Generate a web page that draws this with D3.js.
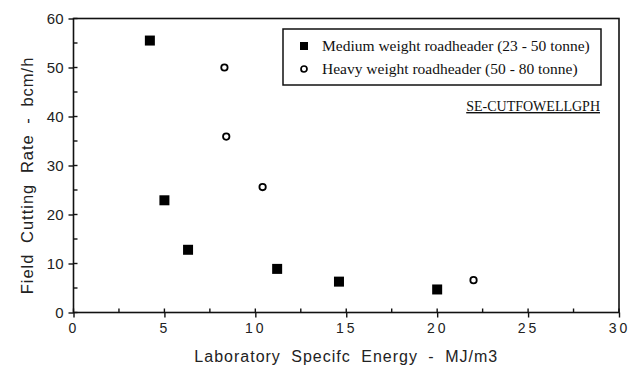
<!DOCTYPE html>
<html>
<head>
<meta charset="utf-8">
<script src="https://cdn.jsdelivr.net/npm/d3@7"></script>
<style>
  body { margin: 0; background: #fff; }
  svg { display: block; }
</style>
</head>
<body>
<script>
  // values
  var mediumEnergy = [4.2, 5.0, 6.3, 11.2, 14.6, 20.0];
  var mediumRate   = [55.5, 22.9, 12.8, 8.9, 6.3, 4.7];
  var heavyEnergy  = [8.3, 8.4, 10.4, 22.0];
  var heavyRate    = [50.0, 35.9, 25.6, 6.6];
  var xTicks = [0, 5, 10, 15, 20, 25, 30];
  var yTicks = [0, 10, 20, 30, 40, 50, 60];
  var legendLabels = ["Medium weight roadheader (23 - 50 tonne)", "Heavy weight roadheader (50 - 80 tonne)"];

  var width = 630, height = 371;
  var margin = {left: 73.5, right: 11, top: 18.5, bottom: 58.5};

  var svg = d3.select("body").append("svg")
      .attr("width", width)
      .attr("height", height);

  var x = d3.scaleLinear().domain([0, 30]).range([margin.left, width - margin.right]);
  var y = d3.scaleLinear().domain([0, 60]).range([height - margin.bottom, margin.top]);

  var sans = "'Liberation Sans', Arial, sans-serif";
  var serif = "'Liberation Serif', 'Times New Roman', serif";

  // frame
  svg.append("rect")
      .attr("x", x(0)).attr("y", y(60))
      .attr("width", x(30) - x(0)).attr("height", y(0) - y(60))
      .attr("fill", "none").attr("stroke", "#111").attr("stroke-width", 1.6);

  // minor ticks, inward
  var xMinor = d3.range(0, 30.01, 2.5);
  var yMinor = d3.range(0, 60.01, 5);
  svg.append("g").selectAll("line").data(xMinor).enter().append("line")
      .attr("x1", function(d) { return x(d); }).attr("x2", function(d) { return x(d); })
      .attr("y1", y(0)).attr("y2", y(0) - 4)
      .attr("stroke", "#111").attr("stroke-width", 1.4);
  svg.append("g").selectAll("line").data(yMinor).enter().append("line")
      .attr("x1", x(0)).attr("x2", x(0) + 4)
      .attr("y1", function(d) { return y(d); }).attr("y2", function(d) { return y(d); })
      .attr("stroke", "#111").attr("stroke-width", 1.4);

  // axes with outward major ticks
  var xAxis = svg.append("g")
      .attr("transform", "translate(0," + y(0) + ")")
      .call(d3.axisBottom(x).tickValues(xTicks).tickSize(5).tickPadding(6));
  var yAxis = svg.append("g")
      .attr("transform", "translate(" + x(0) + ",0)")
      .call(d3.axisLeft(y).tickValues(yTicks).tickSize(5).tickPadding(5));

  [xAxis, yAxis].forEach(function(g) {
    g.select(".domain").remove();
    g.selectAll("line").attr("stroke", "#111").attr("stroke-width", 1.4);
    g.selectAll("text")
        .attr("fill", "#222")
        .style("font-family", sans)
        .style("font-size", "14px");
  });
  xAxis.selectAll("text").style("letter-spacing", "3px");
  yAxis.selectAll("text").style("font-size", "15px");

  // axis titles
  svg.append("text")
      .attr("x", (x(0) + x(30)) / 2)
      .attr("y", 362)
      .attr("text-anchor", "middle")
      .style("font-family", sans)
      .style("font-size", "16px")
      .style("letter-spacing", "1px")
      .style("word-spacing", "5px")
      .attr("fill", "#222")
      .text("Laboratory Specifc Energy - MJ/m3");

  svg.append("text")
      .attr("transform", "translate(33," + (y(30) + 10) + ") rotate(-90)")
      .attr("text-anchor", "middle")
      .style("font-family", sans)
      .style("font-size", "16.5px")
      .style("letter-spacing", "1px")
      .style("word-spacing", "5px")
      .attr("fill", "#222")
      .text("Field Cutting Rate - bcm/h");

  // points
  var medium = mediumEnergy.map(function(e, i) { return {e: e, r: mediumRate[i]}; });
  var heavy = heavyEnergy.map(function(e, i) { return {e: e, r: heavyRate[i]}; });

  svg.append("g").selectAll("rect").data(medium).enter().append("rect")
      .attr("x", function(d) { return x(d.e) - 5; })
      .attr("y", function(d) { return y(d.r) - 5; })
      .attr("width", 10).attr("height", 10)
      .attr("fill", "#000");

  svg.append("g").selectAll("circle").data(heavy).enter().append("circle")
      .attr("cx", function(d) { return x(d.e); })
      .attr("cy", function(d) { return y(d.r); })
      .attr("r", 3.2)
      .attr("fill", "#fff").attr("stroke", "#000").attr("stroke-width", 1.8);

  // legend
  var legend = svg.append("g");
  legend.append("rect")
      .attr("x", 283).attr("y", 29)
      .attr("width", 318).attr("height", 56)
      .attr("fill", "#fff").attr("stroke", "#111").attr("stroke-width", 1.5);

  var rows = legend.selectAll("g.row").data(legendLabels).enter().append("g")
      .attr("class", "row")
      .attr("transform", function(d, i) { return "translate(0," + (46 + i * 23) + ")"; });

  rows.filter(function(d, i) { return i === 0; }).append("rect")
      .attr("x", 300).attr("y", -4).attr("width", 8).attr("height", 8).attr("fill", "#000");
  rows.filter(function(d, i) { return i === 1; }).append("circle")
      .attr("cx", 304).attr("cy", 0).attr("r", 3)
      .attr("fill", "#fff").attr("stroke", "#000").attr("stroke-width", 1.7);

  rows.append("text")
      .attr("x", 322).attr("y", 5)
      .style("font-family", serif)
      .style("font-size", "15.5px")
      .attr("fill", "#111")
      .text(function(d) { return d; });

  svg.append("text")
      .attr("x", 600).attr("y", 111)
      .attr("text-anchor", "end")
      .style("font-family", serif)
      .style("font-size", "14px")
      .style("text-decoration", "underline")
      .attr("fill", "#111")
      .text("SE-CUTFOWELLGPH");
</script>
</body>
</html>
